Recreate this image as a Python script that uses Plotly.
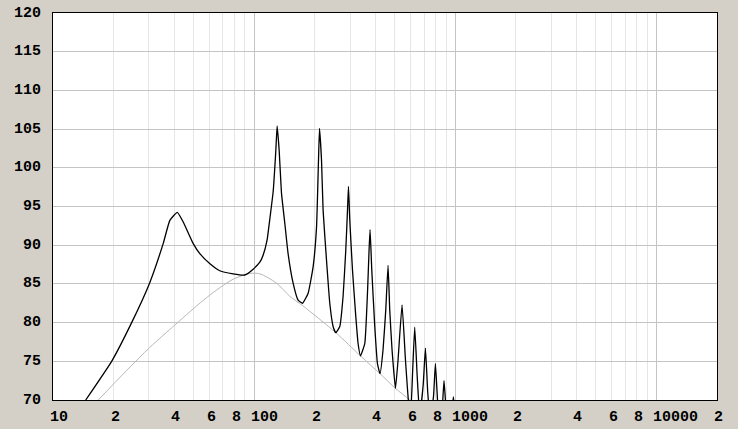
import plotly.graph_objects as go
import numpy as np

# ---- data ----
resp_freq = [14.54, 19.57, 24.6, 30.1, 35.3, 38.1, 41.5, 44.4, 49.8, 53.7, 60.3, 67.5, 78.6, 89.9,
             98.9, 106.7, 110.8, 116.0, 120.2, 124.3, 128.2, 130.1, 133.1, 136.8, 142.1, 147.5, 156.2,
             165.4, 174.0, 185.5, 196.4, 204.2, 208.9, 211.3, 216.2, 220.2, 228.9, 237.7, 246.9, 254.6,
             266.5, 276.8, 285.5, 291.1, 294.4, 298.8, 308.2, 320.1, 328.6, 337.8, 354.8, 365.9, 372.7,
             377.0, 384.4, 397.8, 410.2, 422.6, 437.3, 451.0, 463.1, 472.2, 484.8, 504.1, 519.3, 543.6,
             565.2, 586.9, 600.4, 614.3, 628.5, 646.7, 665.5, 692.7, 710.4, 729.4, 750.5, 779.4, 796.5,
             815.9, 836.6, 863.8, 878.9, 896.1, 927.4, 965.3, 978.6, 993.2, 1028.0]
resp_db = [70.0, 75.0, 80.0, 85.0, 90.2, 93.2, 94.25, 93.0, 90.2, 88.9, 87.6, 86.7, 86.3, 86.15,
           86.9, 87.8, 88.7, 90.7, 93.8, 96.9, 102.3, 105.4, 102.3, 96.7, 92.8, 88.9, 85.1,
           82.9, 82.5, 83.8, 87.2, 92.3, 101.0, 105.1, 101.0, 94.5, 88.1, 82.5, 79.5, 78.7,
           79.5, 83.4, 89.4, 94.5, 97.6, 93.3, 86.8, 80.8, 77.3, 75.7, 77.3, 83.8, 89.4,
           92.0, 86.8, 79.5, 74.7, 73.4, 76.5, 81.6, 87.4, 81.6, 76.5, 71.5, 75.2, 82.3,
           75.2, 69.5, 68.5, 74.0, 79.4, 73.0, 68.0, 72.0, 76.7, 71.0, 67.5, 70.5, 74.7,
           70.0, 67.0, 69.5, 72.5, 69.5, 66.5, 68.8, 70.4, 68.5, 65.0]

base_freq = [16.79, 23.2, 30.3, 40.4, 47.9, 56.0, 65.0, 78.6, 95.2, 106.7, 129.2, 150.4, 174.0,
             254.6, 337.8, 422.6, 504.1, 593.6, 665.0]
base_db = [70.0, 73.8, 76.8, 79.7, 81.4, 82.9, 84.2, 85.6, 86.35, 86.3, 85.1, 83.4, 82.2,
           78.7, 75.7, 73.4, 71.5, 70.0, 68.6]

x_major = [10, 100, 1000, 10000]
x_minor = [20, 30, 40, 50, 60, 70, 80, 90, 200, 300, 400, 500, 600, 700, 800, 900,
           2000, 3000, 4000, 5000, 6000, 7000, 8000, 9000, 20000]
x_label_vals = [10, 20, 40, 60, 80, 100, 200, 400, 600, 800, 1000, 2000, 4000, 6000, 8000, 10000, 20000]
x_label_text = ["10", "2", "4", "6", "8", "100", "2", "4", "6", "8", "1000", "2", "4", "6", "8", "10000", "2"]
y_ticks = [70, 75, 80, 85, 90, 95, 100, 105, 110, 115, 120]

BG = "#d4d0c8"
FONT = dict(family="Liberation Mono, DejaVu Sans Mono, monospace", size=15, color="#000000")

fig = go.Figure()
fig.add_trace(go.Scatter(x=base_freq, y=base_db, mode="lines",
                         line=dict(color="#b8b8b8", width=1, shape="spline", smoothing=0.8),
                         hoverinfo="skip"))
fig.add_trace(go.Scatter(x=resp_freq, y=resp_db, mode="lines",
                         line=dict(color="#000000", width=1.3, shape="spline", smoothing=0.4),
                         hoverinfo="skip"))

annotations = []
for v, t in zip(x_label_vals, x_label_text):
    annotations.append(dict(x=np.log10(v), y=0, xref="x", yref="paper", text="<b>%s</b>" % t,
                            showarrow=False, xanchor="left", yanchor="middle", xshift=-5, yshift=-17,
                            font=FONT))
for v in y_ticks:
    annotations.append(dict(x=0, y=v, xref="paper", yref="y", text="<b>%d</b>" % v,
                            showarrow=False, xanchor="right", yanchor="middle", xshift=-10,
                            font=FONT))

fig.update_layout(
    width=738, height=429,
    margin=dict(l=53, r=21, t=13, b=29),
    paper_bgcolor=BG, plot_bgcolor="#ffffff",
    showlegend=False,
    annotations=annotations,
    xaxis=dict(type="log", range=[1, np.log10(20000)], tickvals=x_major, showticklabels=False,
               ticks="", showgrid=True, gridcolor="#c4c4c4", gridwidth=1,
               minor=dict(tickvals=x_minor, showgrid=True, gridcolor="#e6e6e6", gridwidth=1, ticks=""),
               showline=True, linecolor="#000000", linewidth=1, mirror=True, zeroline=False,
               fixedrange=True),
    yaxis=dict(range=[70, 120], tickvals=y_ticks, showticklabels=False, ticks="",
               showgrid=True, gridcolor="#c4c4c4", gridwidth=1,
               showline=True, linecolor="#000000", linewidth=1, mirror=True, zeroline=False,
               fixedrange=True),
)

fig.write_html("out.html", config={"displayModeBar": False},
               post_script="document.body.style.margin='0px';document.body.style.background='%s';" % BG)
